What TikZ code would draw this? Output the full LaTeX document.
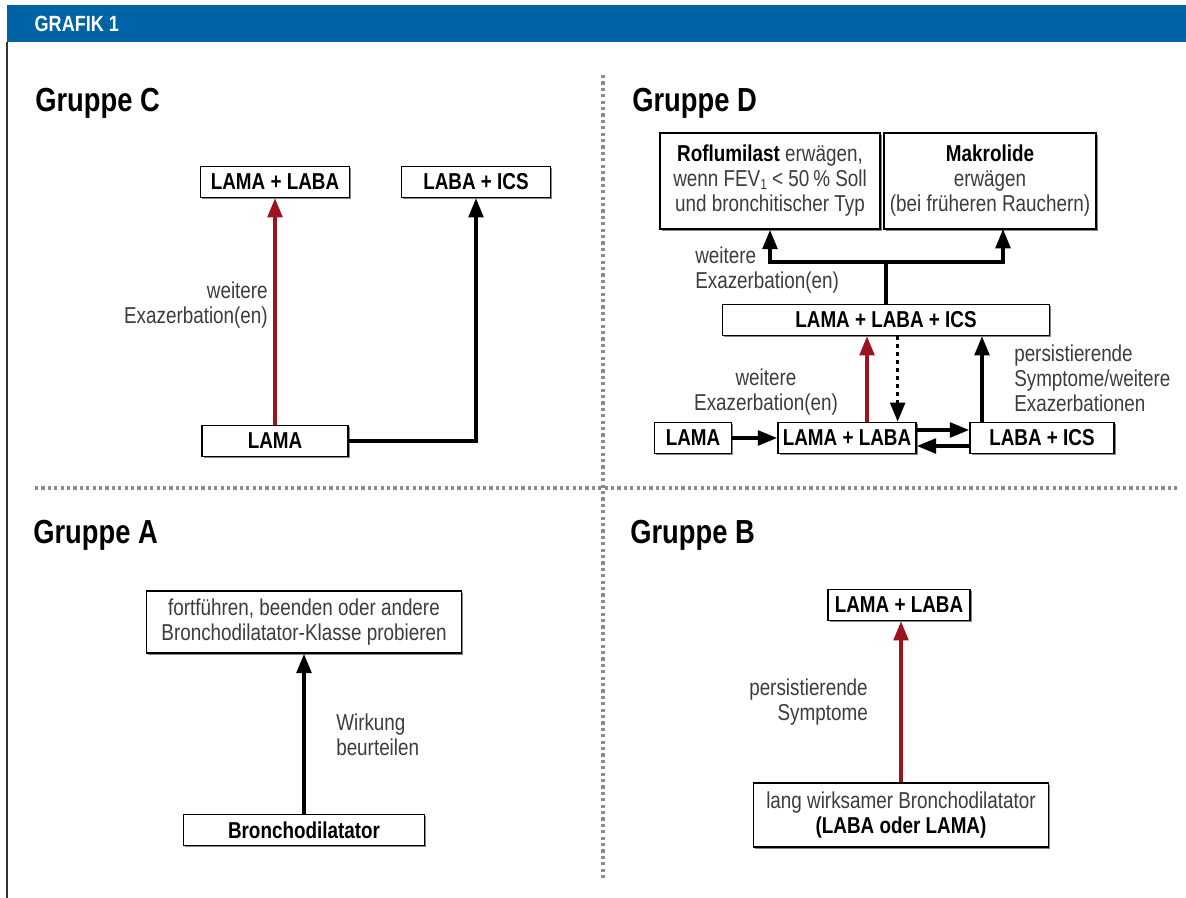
\documentclass[tikz,border=0pt]{standalone}
\usepackage{fontspec}
\setmainfont{Liberation Sans}[FakeStretch=0.82]
\usetikzlibrary{arrows.meta, positioning, shadows}

\definecolor{grafikblau}{RGB}{0,99,166}
\definecolor{exrot}{RGB}{158,17,30}
\definecolor{textgrau}{RGB}{60,60,60}
\definecolor{punktgrau}{RGB}{140,140,140}

\begin{document}
\begin{tikzpicture}[x=0.75pt, y=-0.75pt,
	kasten/.style={draw, line width=1.2pt, fill=white, align=center, inner sep=2pt,
		minimum height=23pt, text=textgrau, font=\fontsize{17.25}{18.75}\selectfont,
		drop shadow={shadow xshift=1.3pt, shadow yshift=-1.3pt, fill=black!60, opacity=0.8}},
	fettkasten/.style={kasten, text=black, font=\fontsize{17.25}{18.75}\selectfont\bfseries},
	beschrift/.style={text=textgrau, inner sep=0pt, font=\fontsize{17.25}{18.75}\selectfont},
	titel/.style={anchor=west, inner sep=0pt, font=\fontsize{25}{28}\selectfont\bfseries},
	arr/.style={line width=2.7pt, -{Triangle[length=14.5pt, width=11pt]}},
	trenner/.style={punktgrau, line width=2.6pt, dash pattern=on 2.4pt off 2.4pt}]

\useasboundingbox (0,0) rectangle (1186,898);

% Kopf
\fill [grafikblau] (7,5) rectangle (1186,42);
\node [anchor=west, text=white, font=\fontsize{16.5}{18}\selectfont\bfseries] (kopf) at (30,24) {GRAFIK 1};
\draw [line width=1.5pt, black!80] (7,42) -- (7,898);

\draw [trenner] (35,488) -- (1178,488);
\draw [trenner] (603,75) -- (603,880);

% Gruppe C
\node [titel] (tc) at (35,103) {Gruppe C};
\node [fettkasten, minimum width=111.75pt] (c2) at (275,182) {LAMA + LABA};
\node [fettkasten, minimum width=111.75pt] (c3) at (476,182) {LABA + ICS};
\node [fettkasten, minimum width=109.5pt] (c1) at (275,441) {LAMA};
\node [beschrift, align=right, anchor=east] (cl) at (268,305) {weitere\\ Exazerbation(en)};

\draw [arr, exrot] (c1) -- (c2);
\draw [arr] (c1.east) -| (c3);

% Gruppe D
\node [titel] (td) at (632,103) {Gruppe D};
\node [kasten, minimum width=165pt, minimum height=72pt] (d5) at (770,181) {
	\textbf{\color{black}Roflumilast} erwägen,\\
	wenn FEV{\fontsize{11}{12}\selectfont\raisebox{-2pt}{1}} < 50\,\% Soll\\
	und bronchitischer Typ
};
\node [kasten, minimum width=159pt, minimum height=72pt] (d6) at (990,181) {
	\textbf{\color{black}Makrolide}\\
	erwägen\\
	(bei früheren Rauchern)
};
\node [fettkasten, minimum width=245pt] (d4) at (886,320) {LAMA + LABA + ICS};
\node [fettkasten, minimum width=57.75pt] (d1) at (693,438) {LAMA};
\node [fettkasten, minimum width=103.5pt] (d2) at (847,438) {LAMA + LABA};
\node [fettkasten, minimum width=108pt] (d3) at (1042,438) {LABA + ICS};

\node [beschrift, align=left, anchor=west] (dl1) at (695,270) {weitere\\ Exazerbation(en)};
\node [beschrift, align=center] (dl2) at (766,392) {weitere\\ Exazerbation(en)};
\node [beschrift, align=left, anchor=west] (dl3) at (1014,378) {persistierende\\ Symptome/weitere\\ Exazerbationen};

\coordinate (gabel) at (886,262);
\coordinate (ziel) at (1003,229);
\coordinate (p1) at ([xshift=15pt]d2.north);
\coordinate (p2) at ([xshift=38pt]d2.north);
\coordinate (p3) at ([xshift=-45pt]d3.north);

\draw [line width=2.7pt] (d4) -- (gabel);
\draw [arr] (gabel) -| (d5);
\draw [arr] (gabel) -| (ziel);
\draw [arr] (d1) -- (d2);
\draw [arr] ([yshift=6pt]d2.east) -- ([yshift=6pt]d3.west);
\draw [arr] ([yshift=-6pt]d3.west) -- ([yshift=-6pt]d2.east);
\draw [arr, exrot] (p1) -- (p1 |- d4.south);
\draw [arr, dash pattern=on 3pt off 3pt] (p2 |- d4.south) -- (p2);
\draw [arr] (p3) -- (p3 |- d4.south);

% Gruppe A
\node [titel] (ta) at (33,535) {Gruppe A};
\node [kasten, minimum width=236pt, minimum height=46.5pt] (a2) at (304,622) {
	fortführen, beenden oder andere\\
	Bronchodilatator-Klasse probieren
};
\node [fettkasten, minimum width=181pt] (a1) at (304,830) {Bronchodilatator};
\node [beschrift, align=left, anchor=west] (al) at (336,735) {Wirkung\\ beurteilen};

\draw [arr] (a1) -- (a2);

% Gruppe B
\node [titel] (tb) at (630,535) {Gruppe B};
\node [fettkasten, minimum width=106.5pt] (b2) at (899,605) {LAMA + LABA};
\node [kasten, minimum width=221pt, minimum height=48pt] (b1) at (901,815) {
	lang wirksamer Bronchodilatator\\
	\textbf{\color{black}(LABA oder LAMA)}
};
\node [beschrift, align=right, anchor=east] (bl) at (868,702) {persistierende\\ Symptome};

\draw [arr, exrot] (b1.north) -- (b1.north |- b2.south);

\end{tikzpicture}
\end{document}
